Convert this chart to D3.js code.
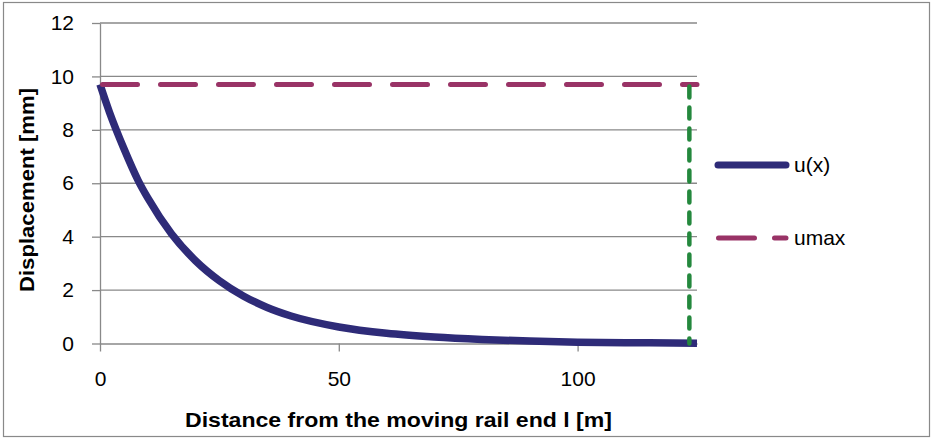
<!DOCTYPE html>
<html>
<head>
<meta charset="utf-8">
<script src="https://cdn.jsdelivr.net/npm/d3@7"></script>
<style>
  html, body { margin: 0; padding: 0; background: #fff; }
  svg text { font-family: "Liberation Sans", Arial, sans-serif; fill: #000; }
</style>
</head>
<body>
<svg id="chart"></svg>
<script>
/* data */
const distance = [0, 2, 5, 8, 10, 15, 20, 25, 30, 35, 40, 50, 60, 70, 80, 90, 100, 110, 120, 125]
const displacement = [9.7, 8.65, 7.3, 6.1, 5.45, 4.1, 3.1, 2.35, 1.78, 1.35, 1.03, 0.62, 0.38, 0.24, 0.15, 0.09, 0.05, 0.03, 0.02, 0.01]
const umax = 9.7
const limitX = 123.4
const xTicks = [0, 50, 100]
const yTicks = [0, 2, 4, 6, 8, 10, 12]
const legendNames = ['u(x)', 'umax']

const width = 932, height = 439
const plot = {left: 100, right: 697, top: 23, bottom: 343.5}
const gridColor = '#898989'
const blue = '#2e2b78', plum = '#993366', green = '#24883d'

const svg = d3.select('#chart').attr('width', width).attr('height', height)

// chart border
svg.append('rect')
   .attr('x', 3.5).attr('y', 2.5)
   .attr('width', 926).attr('height', 434)
   .attr('fill', 'none').attr('stroke', gridColor).attr('stroke-width', 1.2)

const xScale = d3.scaleLinear().domain([0, 125]).range([plot.left, plot.right])
const yScale = d3.scaleLinear().domain([0, 12]).range([plot.bottom, plot.top])

// horizontal grid
svg.append('g').selectAll('line')
   .data(yTicks.filter(d => d > 0))
   .enter().append('line')
   .attr('x1', plot.left).attr('x2', plot.right)
   .attr('y1', d => yScale(d)).attr('y2', d => yScale(d))
   .attr('stroke', gridColor).attr('stroke-width', 1.3)

// axes
const yAxis = svg.append('g')
   .attr('transform', 'translate(' + plot.left + ',0)')
   .call(d3.axisLeft(yScale).tickValues(yTicks).tickSize(8).tickPadding(18).tickSizeOuter(0))
const xAxis = svg.append('g')
   .attr('transform', 'translate(0,' + plot.bottom + ')')
   .call(d3.axisBottom(xScale).tickValues(xTicks).tickSize(8).tickPadding(20).tickSizeOuter(0))

;[xAxis, yAxis].forEach(ax => {
    ax.select('.domain').attr('stroke', gridColor).attr('stroke-width', 1.3)
    ax.selectAll('.tick line').attr('stroke', gridColor).attr('stroke-width', 1.3)
    ax.selectAll('.tick text').style('font-size', '21px').style('font-family', '"Liberation Sans", Arial, sans-serif').attr('fill', '#000')
})

// series
const line = d3.line().x(d => xScale(d[0])).y(d => yScale(d[1])).curve(d3.curveMonotoneX)
const uData = distance.map((d, i) => [d, displacement[i]])

svg.append('path')
   .datum(uData)
   .attr('d', line)
   .attr('fill', 'none').attr('stroke', blue).attr('stroke-width', 7.5)
   .attr('stroke-linejoin', 'round')

svg.append('line')
   .attr('x1', xScale(0) + 2.5).attr('x2', xScale(125))
   .attr('y1', yScale(umax)).attr('y2', yScale(umax))
   .attr('stroke', plum).attr('stroke-width', 5)
   .attr('stroke-linecap', 'round').attr('stroke-dasharray', '35,23')

svg.append('line')
   .attr('x1', xScale(limitX)).attr('x2', xScale(limitX))
   .attr('y1', yScale(umax) + 2).attr('y2', yScale(0))
   .attr('stroke', green).attr('stroke-width', 4.5)
   .attr('stroke-linecap', 'round').attr('stroke-dasharray', '11,10')

// legend
const legend = svg.append('g')
legend.append('line')
   .attr('x1', 718).attr('x2', 786).attr('y1', 165).attr('y2', 165)
   .attr('stroke', blue).attr('stroke-width', 7).attr('stroke-linecap', 'round')
legend.append('line')
   .attr('x1', 718.5).attr('x2', 786).attr('y1', 238).attr('y2', 238)
   .attr('stroke', plum).attr('stroke-width', 5).attr('stroke-linecap', 'round')
   .attr('stroke-dasharray', '36,20')
legend.selectAll('text')
   .data(legendNames)
   .enter().append('text')
   .attr('x', 794)
   .attr('y', (d, i) => 172 + i * 73)
   .style('font-size', '21px')
   .text(d => d)

// axis titles
svg.append('text')
   .attr('x', 398.5).attr('y', 427)
   .attr('text-anchor', 'middle')
   .attr('textLength', 427).attr('lengthAdjust', 'spacingAndGlyphs')
   .style('font-size', '21px').style('font-weight', 'bold')
   .text('Distance from the moving rail end l [m]')

svg.append('text')
   .attr('transform', 'translate(34,190) rotate(-90)')
   .attr('text-anchor', 'middle')
   .attr('textLength', 204).attr('lengthAdjust', 'spacingAndGlyphs')
   .style('font-size', '21px').style('font-weight', 'bold')
   .text('Displacement [mm]')
</script>
</body>
</html>
